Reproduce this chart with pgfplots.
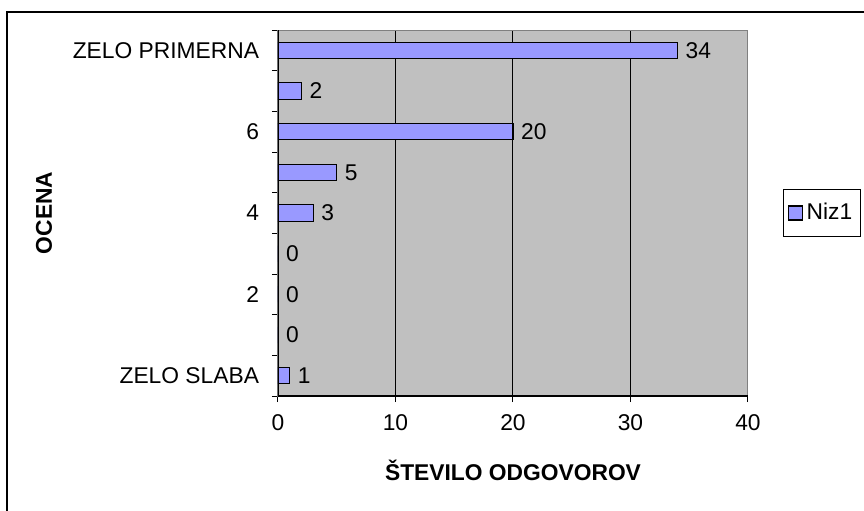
\documentclass[border=0pt]{standalone}
\usepackage{pgfplots}
\pgfplotsset{compat=1.18}
\usepackage{fontspec}
\setmainfont{Liberation Sans}
\definecolor{barblue}{HTML}{9999FF}
\definecolor{plotgray}{HTML}{C0C0C0}
\definecolor{framegray}{HTML}{808080}
\begin{document}
\fontsize{11.4}{13.5}\selectfont
\begin{tikzpicture}
    % page = 864 x 510 px, 1 px = 0.5pt
    \useasboundingbox (0,0) rectangle (432pt,255pt);
    \clip (0,0) rectangle (432pt,255pt);
    \draw[line width=0.7pt] (3.5pt,-10pt) -- (3.5pt,249pt) -- (440pt,249pt);

    \begin{axis}[
        at={(139pt,57pt)}, anchor=south west,
        scale only axis,
        width=235pt, height=183pt,
        xbar, bar width=0.4,
        xmin=0, xmax=40,
        ymin=0.5, ymax=9.5,
        xtick={0,10,...,40},
        ytick={1,3,5,7,9},
        yticklabels={ZELO SLABA,2,4,6,ZELO PRIMERNA},
        minor ytick={0.5,1.5,...,9.5},
        major y tick style={draw=none},
        tick align=outside,
        major tick length=3pt, minor tick length=3pt,
        xtick pos=bottom, ytick pos=left,
        tick style={black, line width=0.5pt},
        xticklabel style={yshift=-2.5pt},
        yticklabel style={xshift=-2.5pt},
        xmajorgrids,
        grid style={black, line width=0.5pt},
        axis line style={framegray, line width=0.5pt},
        axis background/.style={fill=plotgray},
        /pgf/number format/assume math mode=true,
        xlabel={\textbf{ŠTEVILO ODGOVOROV}},
        ylabel={\textbf{OCENA}},
        x label style={at={(axis description cs:0.5,-0.202)}, anchor=center},
        y label style={at={(axis description cs:-0.498,0.5)}, anchor=center},
        nodes near coords,
        every node near coord/.append style={anchor=west, black},
        legend style={at={(axis description cs:1.0745,0.5)}, anchor=west,
            draw=black, fill=white, line width=0.5pt,
            inner xsep=2pt, inner ysep=5pt},
        legend image code/.code={\draw[#1] (0pt,-3.5pt) rectangle (7pt,3.5pt);},
    ]
    \addplot[fill=barblue, draw=black, line width=0.6pt] coordinates {
        (1,1) (0,2) (0,3) (0,4) (3,5) (5,6) (20,7) (2,8) (34,9)
    };
    \addlegendentry{Niz1}
    \draw[framegray, line width=0.5pt] (rel axis cs:1,0) -- (rel axis cs:1,1);
    \draw[black, line width=0.6pt] (rel axis cs:0,1) -- (rel axis cs:0,0) -- (rel axis cs:1,0);
    \end{axis}
\end{tikzpicture}
\end{document}
